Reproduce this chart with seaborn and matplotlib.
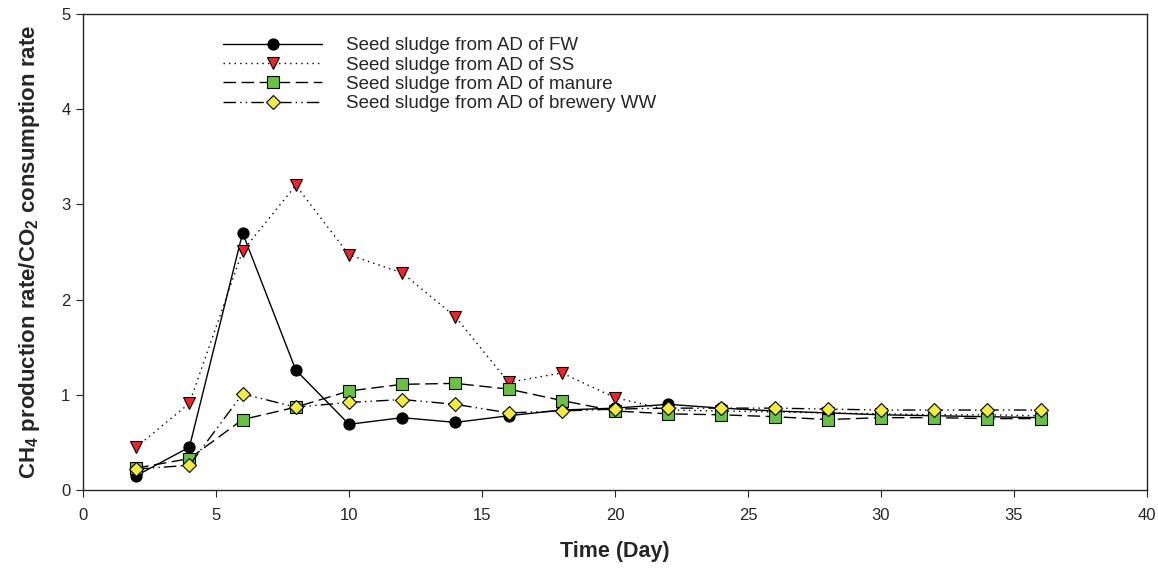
import pandas as pd
import matplotlib.pyplot as plt
import seaborn as sns

days = [2, 4, 6, 8, 10, 12, 14, 16, 18, 20, 22, 24, 26, 28, 30, 32, 34, 36]
fw = [0.15, 0.45, 2.70, 1.26, 0.69, 0.76, 0.71, 0.78, 0.84, 0.86, 0.90, 0.86, 0.83, 0.81, 0.79, 0.78, 0.77, 0.76]
ss = [0.45, 0.91, 2.51, 3.20, 2.47, 2.28, 1.82, 1.13, 1.23, 0.97, 0.84, 0.83, 0.82, 0.81, 0.80, 0.79, 0.79, 0.78]
manure = [0.23, 0.33, 0.74, 0.87, 1.04, 1.11, 1.12, 1.06, 0.94, 0.83, 0.80, 0.79, 0.77, 0.74, 0.76, 0.76, 0.75, 0.75]
brewery = [0.22, 0.26, 1.01, 0.87, 0.92, 0.95, 0.90, 0.81, 0.83, 0.85, 0.86, 0.86, 0.86, 0.85, 0.84, 0.84, 0.84, 0.84]

labels = ["Seed sludge from AD of FW", "Seed sludge from AD of SS",
          "Seed sludge from AD of manure", "Seed sludge from AD of brewery WW"]


def main():
    sns.set_style("ticks")
    plt.rcParams["font.family"] = ["Liberation Sans", "DejaVu Sans"]
    plt.rcParams["mathtext.fontset"] = "custom"
    plt.rcParams["mathtext.rm"] = "Liberation Sans:bold"
    plt.rcParams["mathtext.it"] = "Liberation Sans:bold"

    df = pd.DataFrame({"Day": days, labels[0]: fw, labels[1]: ss,
                       labels[2]: manure, labels[3]: brewery})
    long = df.melt(id_vars="Day", var_name="series", value_name="ratio")

    styles = {
        labels[0]: dict(ls="-", marker="o", mfc="black"),
        labels[1]: dict(ls=(0, (1, 3)), marker="v", mfc="#e8262b"),
        labels[2]: dict(ls=(0, (9, 4)), marker="s", mfc="#6abf45"),
        labels[3]: dict(ls=(0, (9, 3, 1, 3, 1, 3)), marker="D", mfc="#f2ec40"),
    }

    fig = plt.figure(figsize=(11.58, 5.74), dpi=100)
    ax = fig.add_axes([83 / 1158, 1 - 490 / 574, 1064 / 1158, 476 / 574])

    for name in labels:
        st = styles[name]
        sub = long[long["series"] == name]
        sns.lineplot(data=sub, x="Day", y="ratio", ax=ax, color="black", lw=1.0,
                     linestyle=st["ls"], marker=st["marker"], markerfacecolor=st["mfc"],
                     markeredgecolor="black", markeredgewidth=0.8,
                     markersize=8 if st["marker"] != "D" else 7.5, label=name)

    ax.set_xlim(0, 40)
    ax.set_ylim(0, 5)
    ax.set_xticks(range(0, 41, 5))
    ax.set_yticks(range(0, 6))
    ax.tick_params(direction="out", length=5, labelsize=12)
    ax.tick_params(axis="x", pad=8)
    ax.tick_params(axis="y", pad=4)
    for s in ax.spines.values():
        s.set_linewidth(1.0)
        s.set_visible(True)

    ax.set_xlabel("Time (Day)", fontsize=15.5, fontweight="bold", labelpad=13)
    ax.set_ylabel("CH$_4$ production rate/CO$_2$ consumption rate",
                  fontsize=16, fontweight="bold", labelpad=14)

    ax.legend(loc="upper left", bbox_to_anchor=(223 / 1158, 1 - 37 / 574),
              bbox_transform=fig.transFigure, frameon=False, borderpad=0,
              borderaxespad=0, fontsize=13.5, handlelength=5.3,
              handletextpad=1.25, labelspacing=0.12)

    fig.savefig("out.png", dpi=100)
    plt.close(fig)


if __name__ == "__main__":
    main()
